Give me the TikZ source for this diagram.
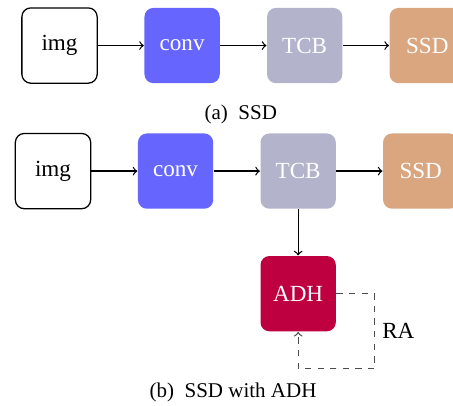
\documentclass[tikz,border=0pt]{standalone}
\usepackage{fontspec}
\setmainfont{Liberation Serif}
\usetikzlibrary{positioning}
\definecolor{tcbcol}{RGB}{179,179,204}
\definecolor{ssdcol}{RGB}{217,166,127}
\begin{document}
\begin{tikzpicture}[node distance=0.77cm,semithick,
	block/.style={rectangle,rounded corners=0.15cm,minimum size=1.26cm,
		font=\fontsize{11}{13}\selectfont,text=white},
	caption/.style={font=\fontsize{10}{12}\selectfont}]
\useasboundingbox (0,0) rectangle (7.58,6.78);
% (a) SSD
\node[block,draw,text=black] (img1) at (0.996,6.018) {img};
\node[block,fill=blue!60,right=of img1] (conv1) {conv};
\node[block,fill=tcbcol,right=of conv1] (tcb1) {TCB};
\node[block,fill=ssdcol,right=of tcb1] (ssd1) {SSD};
\draw[->] (img1) -- (conv1);
\draw[->] (conv1) -- (tcb1);
\draw[->] (tcb1) -- (ssd1);
\node[caption] (capa) at (4.03,4.87) {(a)\hspace{0.5em}SSD};
% (b) SSD with ADH
\node[block,draw,text=black] (img2) at (0.887,3.917) {img};
\node[block,fill=blue!60,right=of img2] (conv2) {conv};
\node[block,fill=tcbcol,right=of conv2] (tcb2) {TCB};
\node[block,fill=ssdcol,right=of tcb2] (ssd2) {SSD};
\node[block,fill=purple,below=of tcb2] (adh) {ADH};
\draw[->] (img2) -- (conv2);
\draw[->] (conv2) -- (tcb2);
\draw[->] (tcb2) -- (adh);
\draw[->] (tcb2) -- (ssd2);
\draw[->,dashed,black!70] (adh.east) -- ++(0.64,0)
	-- ++(0,-1.25) node[midway,right,text=black,font=\fontsize{11}{13}\selectfont] (ra) {RA}
	-| (adh.south);
\node[caption] (capb) at (3.90,0.218) {(b)\hspace{0.5em}SSD with ADH};
\end{tikzpicture}
\end{document}
